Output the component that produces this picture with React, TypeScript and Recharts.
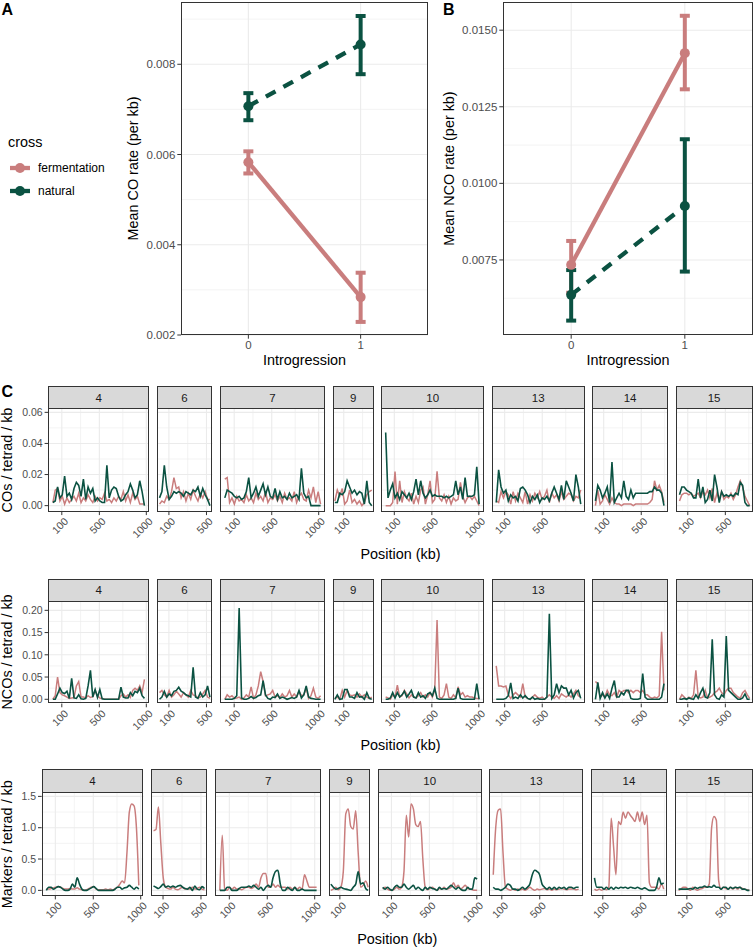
import React from 'react';
import { LineChart, Line, XAxis, YAxis, CartesianGrid, ErrorBar } from 'recharts';

const FONT = '"Liberation Sans", Arial, Helvetica, sans-serif';
const PINK = '#c97d7d';
const GREEN = '#0b5242';
const GRID = '#ebebeb';
const FRAME = '#333333';
const TICK_TEXT = '#4d4d4d';

// ---- A / B: mean rates by introgression status ----
const introgression = [0, 1];

const coFermMean = [0.00583, 0.00284];
const coFermLow = [0.00558, 0.00229];
const coFermHigh = [0.00607, 0.00338];
const coNatMean = [0.00707, 0.00844];
const coNatLow = [0.00676, 0.00778];
const coNatHigh = [0.00736, 0.00907];

const ncoFermMean = [0.00734, 0.01425];
const ncoFermLow = [0.00643, 0.01307];
const ncoFermHigh = [0.00812, 0.01547];
const ncoNatMean = [0.00636, 0.00926];
const ncoNatLow = [0.00552, 0.00712];
const ncoNatHigh = [0.00717, 0.01144];

const coTicks = [0.002, 0.004, 0.006, 0.008];
const coMinor = [0.003, 0.005, 0.007, 0.009];
const ncoTicks = [0.0075, 0.01, 0.0125, 0.015];
const ncoMinor = [0.00625, 0.00875, 0.01125, 0.01375];

// ---- C: per-chromosome windows ----
const chromosomes = ['4', '6', '7', '9', '10', '13', '14', '15'];
const chromStart = [5, 0, 0, 5, 8, 10, 12, 12];
const chromEnd = [980, 537, 1020, 398, 1003, 910, 742, 759];
const positionTicks = [100, 500, 1000];
const positionMinor = [-100, 300, 750];

const coFermentation = [
  [0.002, 0.010, 0.011, 0.003, 0.006, 0.001, 0.005, 0.002, 0.004, 0.006, 0.003, 0.008, 0.002, 0.005, 0.003, 0.007, 0.004, 0.002, 0.006, 0.003, 0.005, 0.004, 0.008, 0.003, 0.004, 0.002, 0.005, 0.003, 0.006, 0.004, 0.009, 0.003, 0.007, 0.002, 0.008, 0.004, 0.006, 0.001, 0.001, 0.001],
  [0.001, 0.003, 0.002, 0.006, 0.004, 0.009, 0.018, 0.011, 0.012, 0.005, 0.009, 0.003, 0.008, 0.004, 0.010, 0.006, 0.003, 0.008, 0.005, 0.009, 0.004, 0.004],
  [0.017, 0.018, 0.002, 0.005, 0.001, 0.006, 0.003, 0.004, 0.002, 0.007, 0.003, 0.005, 0.002, 0.008, 0.004, 0.006, 0.003, 0.009, 0.002, 0.005, 0.004, 0.007, 0.003, 0.006, 0.002, 0.008, 0.004, 0.005, 0.003, 0.009, 0.002, 0.006, 0.008, 0.004, 0.003, 0.010, 0.005, 0.012, 0.002, 0.009, 0.001],
  [0.003, 0.010, 0.006, 0.011, 0.001, 0.003, 0.010, 0.002, 0.004, 0.001, 0.003, 0.000, 0.002, 0.007, 0.009, 0.010],
  [0, 0, 0, 0.002, 0.022, 0.001, 0.016, 0.002, 0.009, 0.005, 0.003, 0.008, 0.001, 0.006, 0.002, 0.010, 0.012, 0.001, 0.007, 0.016, 0.002, 0.004, 0.022, 0.005, 0.003, 0.007, 0.002, 0.006, 0.001, 0.005, 0.003, 0.004, 0.015, 0.006, 0.002, 0.005, 0.006, 0.004, 0.006, 0.003, 0],
  [0.003, 0.002, 0.009, 0.005, 0.009, 0.007, 0.001, 0.009, 0.003, 0.008, 0.005, 0.002, 0.009, 0.001, 0.007, 0.003, 0.008, 0.005, 0.009, 0.004, 0.006, 0.010, 0.002, 0.008, 0.005, 0.007, 0.003, 0.009, 0.004, 0.006, 0.008, 0.007, 0.003, 0.006, 0.005, 0.010],
  [0, 0.010, 0.001, 0.003, 0.007, 0.004, 0.001, 0.005, 0.002, 0.001, 0.001, 0, 0.001, 0.001, 0.001, 0.001, 0, 0.001, 0.001, 0.001, 0.001, 0.001, 0.001, 0.002, 0.004, 0.016, 0.010, 0.013, 0.009, 0.002],
  [0.003, 0.007, 0.008, 0.008, 0.007, 0.008, 0.006, 0.007, 0.008, 0.005, 0.009, 0.007, 0.010, 0.005, 0.011, 0.002, 0.008, 0.004, 0.009, 0.004, 0.006, 0.005, 0.008, 0.004, 0.007, 0.012, 0.016, 0.012, 0.006, 0.003, 0],
];

const coNatural = [
  [0.002, 0.003, 0.012, 0.005, 0.007, 0.019, 0.006, 0.008, 0.004, 0.011, 0.015, 0.013, 0.006, 0.017, 0.004, 0.012, 0.008, 0.011, 0.003, 0.005, 0.003, 0.002, 0.002, 0.026, 0.005, 0.010, 0.012, 0.011, 0.006, 0.003, 0.004, 0.007, 0.009, 0.014, 0.010, 0.005, 0.007, 0.016, 0.009, 0.000],
  [0.005, 0.009, 0.026, 0.012, 0.004, 0.006, 0.009, 0.008, 0.009, 0.008, 0.006, 0.009, 0.008, 0.007, 0.010, 0.009, 0.012, 0.006, 0.011, 0.007, 0.004, 0.000],
  [0.005, 0.010, 0.009, 0.008, 0.006, 0.005, 0.006, 0.004, 0.005, 0.009, 0.018, 0.005, 0.008, 0.012, 0.006, 0.010, 0.014, 0.007, 0.012, 0.006, 0.005, 0.011, 0.004, 0.009, 0.005, 0.006, 0.004, 0.008, 0.005, 0.006, 0.007, 0.004, 0.024, 0.008, 0.005, 0.006, 0, 0, 0, 0, 0],
  [0.002, 0.002, 0.008, 0.007, 0.009, 0.016, 0.012, 0.008, 0.010, 0.007, 0.009, 0.008, 0.001, 0.016, 0.002, 0.000],
  [0.047, 0.005, 0.010, 0.014, 0.005, 0.008, 0.004, 0.009, 0.007, 0.005, 0.008, 0.004, 0.009, 0.017, 0.007, 0.016, 0.008, 0.005, 0.007, 0.010, 0.006, 0.007, 0.006, 0.006, 0.006, 0.005, 0.006, 0.005, 0.006, 0.007, 0.016, 0.007, 0.012, 0.004, 0.018, 0.006, 0.006, 0.006, 0.007, 0.025, 0.001],
  [0.002, 0.023, 0.012, 0.008, 0.010, 0.003, 0.007, 0.005, 0.006, 0.003, 0.011, 0.012, 0.010, 0.007, 0.002, 0.006, 0.004, 0.007, 0.002, 0.005, 0.004, 0.006, 0.003, 0.008, 0.012, 0.008, 0.004, 0.013, 0.004, 0.016, 0.012, 0.008, 0.003, 0.020, 0.012, 0.001],
  [0.003, 0.013, 0.010, 0.005, 0.008, 0.012, 0.002, 0.028, 0.002, 0.005, 0.008, 0.005, 0.016, 0.006, 0.004, 0.010, 0.005, 0.008, 0.008, 0.008, 0.008, 0.008, 0.008, 0.009, 0.009, 0.012, 0.010, 0.010, 0.008, 0],
  [0.007, 0.012, 0.012, 0.010, 0.009, 0.008, 0.005, 0.005, 0.017, 0.005, 0.012, 0.002, 0.004, 0.010, 0.003, 0.020, 0.012, 0.002, 0.009, 0.006, 0.007, 0.006, 0.007, 0.006, 0.008, 0.007, 0.015, 0.013, 0.002, 0, 0],
];

const ncoFermentation = [
  [0, 0.008, 0.05, 0.015, 0.01, 0.008, 0.005, 0.002, 0.003, 0.004, 0.03, 0.04, 0.005, 0.005, 0.003, 0.008, 0.004, 0.006, 0.02, 0.008, 0.003, 0.002, 0, 0, 0, 0, 0, 0, 0, 0.008, 0.012, 0.005, 0.01, 0.004, 0.02, 0.025, 0.02, 0.03, 0.015, 0.045],
  [0.015, 0.02, 0.01, 0.005, 0.02, 0.005, 0.01, 0.018, 0.012, 0.005, 0.015, 0.01, 0.005, 0.02, 0.01, 0.008, 0.003, 0.005, 0.012, 0.02, 0.005, 0.002],
  [0, 0.01, 0.005, 0.008, 0.002, 0.003, 0.005, 0, 0.003, 0.01, 0.005, 0.028, 0.002, 0.01, 0.03, 0.062, 0.04, 0.008, 0.01, 0.012, 0.02, 0.005, 0.008, 0.003, 0.012, 0.005, 0.008, 0.02, 0.005, 0.012, 0.005, 0.018, 0.008, 0.01, 0.025, 0.002, 0.008, 0.025, 0.005, 0.002, 0.008],
  [0.002, 0.005, 0, 0.02, 0.005, 0.02, 0.01, 0.008, 0.01, 0.005, 0.012, 0.005, 0.01, 0.005, 0.002, 0.005],
  [0.005, 0.003, 0, 0.01, 0.005, 0.032, 0.005, 0.008, 0.02, 0.012, 0.003, 0.01, 0.005, 0.003, 0.008, 0.015, 0.005, 0.01, 0.005, 0.015, 0.005, 0.02, 0.178, 0.005, 0.002, 0.01, 0.035, 0.005, 0.002, 0.01, 0.003, 0.028, 0.01, 0.015, 0.005, 0.008, 0.005, 0.005, 0.003, 0.002, 0.002],
  [0.075, 0.03, 0.03, 0.028, 0.03, 0.01, 0.002, 0.01, 0.015, 0.01, 0.005, 0.035, 0.005, 0.002, 0, 0.005, 0.01, 0.005, 0.002, 0.005, 0, 0.005, 0.01, 0.005, 0.002, 0.008, 0.002, 0.012, 0.008, 0.005, 0.01, 0.005, 0.012, 0.02, 0.008, 0.005],
  [0.04, 0.035, 0.005, 0.01, 0.005, 0.02, 0.01, 0.008, 0.015, 0.005, 0.02, 0.015, 0.02, 0.02, 0.015, 0.02, 0.015, 0.02, 0.02, 0.015, 0.02, 0.01, 0.01, 0.005, 0.002, 0.005, 0.003, 0.008, 0.152, 0.02],
  [0, 0.01, 0.005, 0, 0.005, 0.002, 0.01, 0.065, 0.005, 0.003, 0.005, 0.02, 0.003, 0.005, 0.008, 0.015, 0.018, 0.025, 0.015, 0.01, 0.02, 0.025, 0.025, 0.015, 0.01, 0.005, 0.003, 0.015, 0.02, 0.01, 0.002],
];

const ncoNatural = [
  [0, 0, 0.012, 0.025, 0.015, 0.013, 0.018, 0.002, 0.047, 0.003, 0.002, 0.010, 0.001, 0, 0.002, 0.030, 0.065, 0.005, 0.022, 0.004, 0.022, 0.001, 0, 0, 0, 0, 0, 0, 0, 0.027, 0.005, 0.003, 0.003, 0.015, 0.008, 0.018, 0.015, 0.025, 0.008, 0.002],
  [0, 0.005, 0.018, 0.005, 0.012, 0.008, 0.018, 0.02, 0.027, 0.018, 0.015, 0.01, 0.008, 0.005, 0.072, 0.005, 0.002, 0.015, 0.005, 0.01, 0.03, 0.005],
  [0, 0, 0, 0, 0.002, 0.008, 0.205, 0.003, 0, 0, 0.002, 0.006, 0.002, 0.004, 0.008, 0.010, 0.042, 0.010, 0.002, 0, 0.005, 0.004, 0.012, 0.002, 0.005, 0.003, 0, 0.002, 0.004, 0.002, 0.005, 0.020, 0.003, 0.010, 0.030, 0.005, 0.002, 0.001, 0, 0, 0],
  [0, 0.01, 0, 0.001, 0.022, 0.022, 0.005, 0.005, 0.002, 0.015, 0.005, 0.006, 0, 0.015, 0.002, 0],
  [0, 0, 0.003, 0.015, 0.003, 0.015, 0.005, 0.010, 0.018, 0.005, 0.012, 0.020, 0.005, 0.003, 0.015, 0.005, 0.008, 0.002, 0.012, 0.015, 0.008, 0.025, 0.002, 0, 0, 0, 0, 0, 0, 0, 0.002, 0.025, 0.002, 0, 0, 0, 0, 0, 0, 0.035, 0],
  [0, 0, 0, 0, 0.002, 0.008, 0.037, 0.002, 0.005, 0.002, 0.010, 0.003, 0.008, 0.002, 0, 0.005, 0, 0.002, 0, 0, 0, 0.005, 0.192, 0.002, 0.010, 0.035, 0.015, 0.030, 0.025, 0.025, 0.010, 0.020, 0.003, 0.015, 0.020, 0.002],
  [0, 0.038, 0.002, 0.015, 0.003, 0.012, 0.002, 0.025, 0.042, 0.005, 0.005, 0.015, 0.010, 0.020, 0.020, 0.002, 0, 0, 0, 0.002, 0.058, 0.005, 0, 0, 0, 0, 0, 0, 0.005, 0.035],
  [0, 0, 0.002, 0, 0.003, 0.001, 0, 0.010, 0.002, 0.015, 0.025, 0.005, 0.003, 0.015, 0.135, 0.010, 0.002, 0, 0.010, 0.005, 0.142, 0.020, 0.015, 0.010, 0.005, 0, 0, 0.003, 0.012, 0, 0],
];

const markerFermentation = [
  [0.02, 0.02, 0.03, 0.04, 0.05, 0.06, 0.05, 0.03, 0.02, 0.02, 0.03, 0.02, 0.02, 0.04, 0.02, 0.01, 0, 0.01, 0.03, 0.05, 0.06, 0.02, 0.01, 0.01, 0.01, 0.02, 0.01, 0.02, 0.01, 0.03, 0.05, 0.10, 0.15, 0.12, 0.60, 1.25, 1.38, 1.35, 1.00, 0.08],
  [0.95, 0.97, 1.33, 0.75, 0.2, 0.05, 0.03, 0.02, 0.05, 0.02, 0.01, 0.03, 0.05, 0.02, 0.03, 0.02, 0.05, 0.02, 0.03, 0.05, 0.02, 0.01],
  [0, 0.88, 0.02, 0, 0.05, 0.02, 0.05, 0.02, 0.02, 0.01, 0.03, 0.05, 0.05, 0.03, 0.05, 0.1, 0.05, 0.2, 0.27, 0.27, 0.05, 0.05, 0.1, 0.05, 0.08, 0.05, 0.05, 0.05, 0.02, 0.05, 0.02, 0.05, 0.02, 0.05, 0.02, 0.25, 0.15, 0.05, 0.05, 0.05, 0.05],
  [0, 0.02, 0.05, 0.01, 0.05, 0.3, 1.22, 1.3, 1.02, 0.98, 1.27, 0.6, 0.05, 0.08, 0.15, 0.05],
  [0.02, 0.05, 0.02, 0, 0, 0.02, 0.05, 0.02, 0.05, 0.3, 1.2, 0.85, 1.38, 1.3, 1.05, 1.02, 1.1, 0.5, 0.05, 0.01, 0.03, 0.05, 0.02, 0, 0.03, 0.02, 0.05, 0.02, 0.03, 0.05, 0.12, 0.05, 0.08, 0.02, 0.05, 0.08, 0.03, 0.02, 0.01, 0, 0],
  [0.25, 1.0, 1.28, 1.3, 0.6, 0.05, 0.02, 0, 0.02, 0, 0.02, 0.01, 0.02, 0, 0.02, 0.05, 0.02, 0, 0.02, 0.01, 0.02, 0.03, 0.01, 0.02, 0, 0.02, 0.01, 0.02, 0.03, 0.02, 0.01, 0.02, 0.02, 0.02, 0.01, 0.02],
  [0.02, 0, 0.02, 0, 0.02, 0.01, 0.05, 1.15, 0.7, 0.25, 1.1, 1.05, 1.25, 1.15, 1.25, 1.2, 1.15, 1.1, 1.25, 1.1, 1.25, 1.05, 1.2, 0.12, 0.05, 0.05, 0.05, 0.02, 0.1, 0.02],
  [0, 0.02, 0.05, 0.05, 0.02, 0, 0.05, 0.02, 0, 0.02, 0.03, 0.05, 0.05, 0.1, 1.0, 1.18, 1.12, 0.15, 0.02, 0.05, 0.03, 0.02, 0.05, 0.02, 0.05, 0.02, 0.05, 0.03, 0.02, 0.01, 0],
];

const markerNatural = [
  [0, 0.05, 0.05, 0.02, 0.04, 0.06, 0.05, 0.02, 0, 0, 0.02, 0.1, 0.05, 0.2, 0.1, 0.02, 0, 0, 0.02, 0.04, 0.06, 0.03, 0, 0, 0, 0, 0, 0, 0, 0.02, 0.05, 0.05, 0.02, 0.04, 0.05, 0.08, 0.05, 0.02, 0.05, 0.02],
  [0.07, 0.05, 0.03, 0.06, 0.1, 0.05, 0.07, 0.05, 0.07, 0.05, 0.07, 0.08, 0.05, 0.03, 0.02, 0.05, 0, 0.07, 0.02, 0.01, 0.06, 0.03],
  [0, 0, 0, 0.05, 0.05, 0, 0, 0, 0.03, 0.05, 0.05, 0.05, 0.07, 0.05, 0.08, 0.05, 0.02, 0.05, 0, 0.05, 0.08, 0.05, 0.2, 0.3, 0.32, 0.1, 0, 0, 0.05, 0.02, 0, 0.05, 0, 0, 0.02, 0, 0, 0, 0, 0, 0],
  [0.1, 0.05, 0.02, 0.03, 0.05, 0.03, 0.02, 0.01, 0, 0.05, 0.1, 0.3, 0.1, 0.12, 0.03, 0],
  [0.05, 0.02, 0.05, 0.02, 0, 0.05, 0.08, 0.05, 0.05, 0.1, 0.05, 0.02, 0.05, 0.08, 0.02, 0.05, 0.02, 0, 0.05, 0.02, 0.05, 0.03, 0.02, 0, 0.05, 0.02, 0.03, 0.02, 0.05, 0.08, 0.05, 0.02, 0.05, 0.02, 0, 0, 0.05, 0.02, 0.02, 0.2, 0.18],
  [0.05, 0.02, 0.02, 0, 0.02, 0.05, 0.1, 0.08, 0.02, 0.02, 0, 0.02, 0.05, 0.02, 0.05, 0.1, 0.25, 0.32, 0.3, 0.25, 0.1, 0.05, 0.02, 0.05, 0.02, 0.05, 0.02, 0.05, 0.03, 0.05, 0.02, 0.05, 0.05, 0.03, 0.05, 0.05],
  [0.2, 0.05, 0.05, 0.05, 0.02, 0.05, 0.02, 0.05, 0.02, 0.05, 0.03, 0.05, 0.04, 0.05, 0.03, 0.05, 0.04, 0.03, 0.05, 0.03, 0.02, 0.04, 0.02, 0, 0, 0, 0.05, 0.2, 0.1, 0.12],
  [0.02, 0.02, 0.02, 0.02, 0.02, 0.03, 0.02, 0.05, 0.03, 0.05, 0.05, 0.07, 0.05, 0.06, 0.05, 0.08, 0.05, 0.05, 0.02, 0.05, 0.05, 0.02, 0.05, 0.03, 0.05, 0.04, 0.05, 0.02, 0.02, 0, 0],
];

// ---- layout of the facet rows ----
const GAP = 7.7;
const PAD = 24; // room either side of a facet for the slanted tick labels

const facetRows = [
  {
    title: 'COs / tetrad / kb', fermentation: coFermentation, natural: coNatural,
    yDomain: [-0.0037, 0.0628], yTicks: [0, 0.02, 0.04, 0.06], yMinor: [0.01, 0.03, 0.05], digits: 2,
    left: 48.3, right: 752.7, stripTop: 386, plotTop: 408.3, plotBottom: 511.7, xTitleY: 559, curve: 'linear',
  },
  {
    title: 'NCOs / tetrad / kb', fermentation: ncoFermentation, natural: ncoNatural,
    yDomain: [-0.0097, 0.221], yTicks: [0, 0.05, 0.1, 0.15, 0.2], yMinor: [0.025, 0.075, 0.125, 0.175], digits: 2,
    left: 48.3, right: 752.7, stripTop: 578.5, plotTop: 600.7, plotBottom: 703.3, xTitleY: 750, curve: 'linear',
  },
  {
    title: 'Markers / tetrad / kb', fermentation: markerFermentation, natural: markerNatural,
    yDomain: [-0.085, 1.57], yTicks: [0, 0.5, 1, 1.5], yMinor: [0.25, 0.75, 1.25], digits: 1,
    left: 41.7, right: 752.7, stripTop: 769.3, plotTop: 792.3, plotBottom: 896, xTitleY: 944, curve: 'monotone',
  },
];

type FacetRow = (typeof facetRows)[number];

const windows = (ci: number, values: number[]) => {
  const s = chromStart[ci];
  const e = chromEnd[ci];
  return values.map((v, i) => ({ pos: s + ((e - s) * i) / (values.length - 1), v }));
};

const chromDomain = (ci: number): [number, number] => {
  const span = chromEnd[ci] - chromStart[ci];
  return [chromStart[ci] - 0.05 * span, chromEnd[ci] + 0.05 * span];
};

const RotatedTick = (props: any) => {
  const { x, y, payload } = props;
  const px = x + 7;
  const py = y + 5;
  return (
    <text x={px} y={py} transform={`rotate(-45 ${px} ${py})`} textAnchor="end" fontSize={10.5} fill={TICK_TEXT} fontFamily={FONT}>
      {payload.value}
    </text>
  );
};

const Facet = ({ row, ci, left, width, first }: { row: FacetRow; ci: number; left: number; width: number; first: boolean }) => {
  const [lo, hi] = chromDomain(ci);
  const plotH = row.plotBottom - row.plotTop;
  const yAxisW = first ? left : 0;
  const padL = first ? 0 : PAD;
  const xTicks = positionTicks.filter((t) => t >= lo && t <= hi);
  const xMinor = positionMinor.filter((t) => t >= lo && t <= hi);
  return (
    <>
      <div
        style={{
          position: 'absolute', left, top: row.stripTop, width, height: row.plotTop - row.stripTop + 1,
          background: '#d9d9d9', border: `1px solid ${FRAME}`, boxSizing: 'border-box',
          display: 'flex', alignItems: 'center', justifyContent: 'center',
          fontFamily: FONT, fontSize: 11.5, color: '#1a1a1a',
        }}
      >
        {chromosomes[ci]}
      </div>
      <div style={{ position: 'absolute', left: left - yAxisW - padL, top: row.plotTop }}>
        <LineChart
          width={width + yAxisW + padL + PAD} height={plotH + 40}
          margin={{ top: 0, right: PAD, bottom: 0, left: padL }}
        >
          <CartesianGrid horizontalValues={row.yMinor} verticalValues={xMinor} stroke={GRID} strokeWidth={0.6} />
          <CartesianGrid horizontalValues={row.yTicks} verticalValues={xTicks} stroke={GRID} strokeWidth={1.1} />
          <XAxis
            type="number" dataKey="pos" domain={[lo, hi]} ticks={xTicks} allowDataOverflow interval={0}
            height={40} tickSize={3.7} tickLine={{ stroke: FRAME }} axisLine={false} tick={RotatedTick}
          />
          <YAxis
            type="number" domain={row.yDomain} ticks={row.yTicks} allowDataOverflow interval={0}
            width={yAxisW} hide={!first} tickSize={3.7} tickLine={{ stroke: FRAME }} axisLine={false}
            tick={{ fontSize: 10.5, fill: TICK_TEXT, fontFamily: FONT }}
            tickFormatter={(v: number) => v.toFixed(row.digits)}
          />
          <Line
            data={windows(ci, row.fermentation[ci])} dataKey="v" type={row.curve as any}
            stroke={PINK} strokeWidth={1.5} dot={false} isAnimationActive={false}
          />
          <Line
            data={windows(ci, row.natural[ci])} dataKey="v" type={row.curve as any}
            stroke={GREEN} strokeWidth={1.6} dot={false} isAnimationActive={false}
          />
        </LineChart>
      </div>
      <div
        style={{
          position: 'absolute', left, top: row.plotTop, width, height: plotH,
          border: `1px solid ${FRAME}`, boxSizing: 'border-box', pointerEvents: 'none',
        }}
      />
    </>
  );
};

const FacetStrip = ({ row }: { row: FacetRow }) => {
  const spans = chromStart.map((s, i) => 1.1 * (chromEnd[i] - s));
  const total = spans.reduce((a, b) => a + b, 0);
  const k = (row.right - row.left - GAP * (spans.length - 1)) / total;
  let x = row.left;
  return (
    <>
      {spans.map((sp, ci) => {
        const w = sp * k;
        const el = <Facet key={ci} row={row} ci={ci} left={x} width={w} first={ci === 0} />;
        x += w + GAP;
        return el;
      })}
    </>
  );
};

// ---- rate charts ----
const rateRows = (fm: number[], fl: number[], fh: number[], nm: number[], nl: number[], nh: number[]) =>
  introgression.map((x, i) => ({
    x,
    fermentation: fm[i],
    fermErr: [fm[i] - fl[i], fh[i] - fm[i]],
    natural: nm[i],
    natErr: [nm[i] - nl[i], nh[i] - nm[i]],
  }));

interface RateChartProps {
  left: number;
  width: number;
  yAxisWidth: number;
  plotWidth: number;
  rows: ReturnType<typeof rateRows>;
  yDomain: number[];
  yTicks: number[];
  yMinor: number[];
  digits: number;
}

const RateChart = ({ left, width, yAxisWidth, plotWidth, rows, yDomain, yTicks, yMinor, digits }: RateChartProps) => (
  <>
    <div style={{ position: 'absolute', left, top: 0 }}>
      <LineChart width={width} height={380} data={rows} margin={{ top: 2, right: width - yAxisWidth - plotWidth, bottom: 0, left: 0 }}>
        <CartesianGrid horizontalValues={yMinor} vertical={false} stroke={GRID} strokeWidth={0.6} />
        <CartesianGrid horizontalValues={yTicks} verticalValues={introgression} stroke={GRID} strokeWidth={1.1} />
        <XAxis
          type="number" dataKey="x" domain={[-0.6, 1.6]} ticks={introgression} allowDataOverflow interval={0}
          height={45} tickSize={3.7} tickLine={{ stroke: FRAME }} axisLine={false}
          tick={{ fontSize: 11.5, fill: TICK_TEXT, fontFamily: FONT }}
        />
        <YAxis
          type="number" domain={yDomain} ticks={yTicks} allowDataOverflow interval={0}
          width={yAxisWidth} tickSize={3.7} tickLine={{ stroke: FRAME }} axisLine={false}
          tick={{ fontSize: 11.5, fill: TICK_TEXT, fontFamily: FONT }}
          tickFormatter={(v: number) => v.toFixed(digits)}
        />
        <Line
          dataKey="fermentation" type="linear" stroke={PINK} strokeWidth={4.3}
          dot={{ r: 5, fill: PINK, stroke: PINK, strokeWidth: 0 }} activeDot={false} isAnimationActive={false}
        >
          <ErrorBar dataKey="fermErr" direction="y" width={5} stroke={PINK} strokeWidth={4} isAnimationActive={false} />
        </Line>
        <Line
          dataKey="natural" type="linear" stroke={GREEN} strokeWidth={4.3} strokeDasharray="11 9"
          dot={{ r: 5, fill: GREEN, stroke: GREEN, strokeWidth: 0, strokeDasharray: '0' }} activeDot={false} isAnimationActive={false}
        >
          <ErrorBar dataKey="natErr" direction="y" width={5} stroke={GREEN} strokeWidth={4} isAnimationActive={false} />
        </Line>
      </LineChart>
    </div>
    <div
      style={{
        position: 'absolute', left: left + yAxisWidth, top: 2, width: plotWidth, height: 333,
        border: `1px solid ${FRAME}`, boxSizing: 'border-box', pointerEvents: 'none',
      }}
    />
  </>
);

const Labels = () => (
  <svg width={755} height={947} style={{ position: 'absolute', left: 0, top: 0 }} fontFamily={FONT}>
    <text x={1.5} y={15} fontSize={16} fontWeight="bold">A</text>
    <text x={443} y={15} fontSize={16} fontWeight="bold">B</text>
    <text x={1.5} y={397} fontSize={16} fontWeight="bold">C</text>

    <text transform="rotate(-90 138 168.5)" x={138} y={168.5} fontSize={14.4} textAnchor="middle">Mean CO rate (per kb)</text>
    <text transform="rotate(-90 454 168.5)" x={454} y={168.5} fontSize={14.4} textAnchor="middle">Mean NCO rate (per kb)</text>
    <text x={304.5} y={365} fontSize={14.4} textAnchor="middle">Introgression</text>
    <text x={628} y={365} fontSize={14.4} textAnchor="middle">Introgression</text>

    <text x={8} y={147} fontSize={14.4}>cross</text>
    <line x1={10} x2={30} y1={168} y2={168} stroke={PINK} strokeWidth={4.3} />
    <circle cx={20} cy={168} r={5} fill={PINK} />
    <text x={38} y={172} fontSize={12}>fermentation</text>
    <line x1={10} x2={30} y1={191} y2={191} stroke={GREEN} strokeWidth={4.3} />
    <circle cx={20} cy={191} r={5} fill={GREEN} />
    <text x={38} y={195} fontSize={12}>natural</text>

    {facetRows.map((row) => {
      const cy = (row.plotTop + row.plotBottom) / 2;
      return (
        <g key={row.title}>
          <text transform={`rotate(-90 12 ${cy})`} x={12} y={cy} fontSize={14.4} textAnchor="middle">{row.title}</text>
          <text x={(row.left + row.right) / 2} y={row.xTitleY} fontSize={14.4} textAnchor="middle">Position (kb)</text>
        </g>
      );
    })}
  </svg>
);

export default function App() {
  const coData = rateRows(coFermMean, coFermLow, coFermHigh, coNatMean, coNatLow, coNatHigh);
  const ncoData = rateRows(ncoFermMean, ncoFermLow, ncoFermHigh, ncoNatMean, ncoNatLow, ncoNatHigh);
  return (
    <div style={{ position: 'absolute', left: 0, top: 0, width: 755, height: 947, background: '#fff', fontFamily: FONT }}>
      <Labels />
      <RateChart left={0} width={440} yAxisWidth={181} plotWidth={247} rows={coData}
        yDomain={[0.002, 0.00938]} yTicks={coTicks} yMinor={coMinor} digits={3} />
      <RateChart left={440} width={315} yAxisWidth={63} plotWidth={250} rows={ncoData}
        yDomain={[0.00505, 0.01592]} yTicks={ncoTicks} yMinor={ncoMinor} digits={4} />
      {facetRows.map((row) => (
        <FacetStrip key={row.title} row={row} />
      ))}
    </div>
  );
}
